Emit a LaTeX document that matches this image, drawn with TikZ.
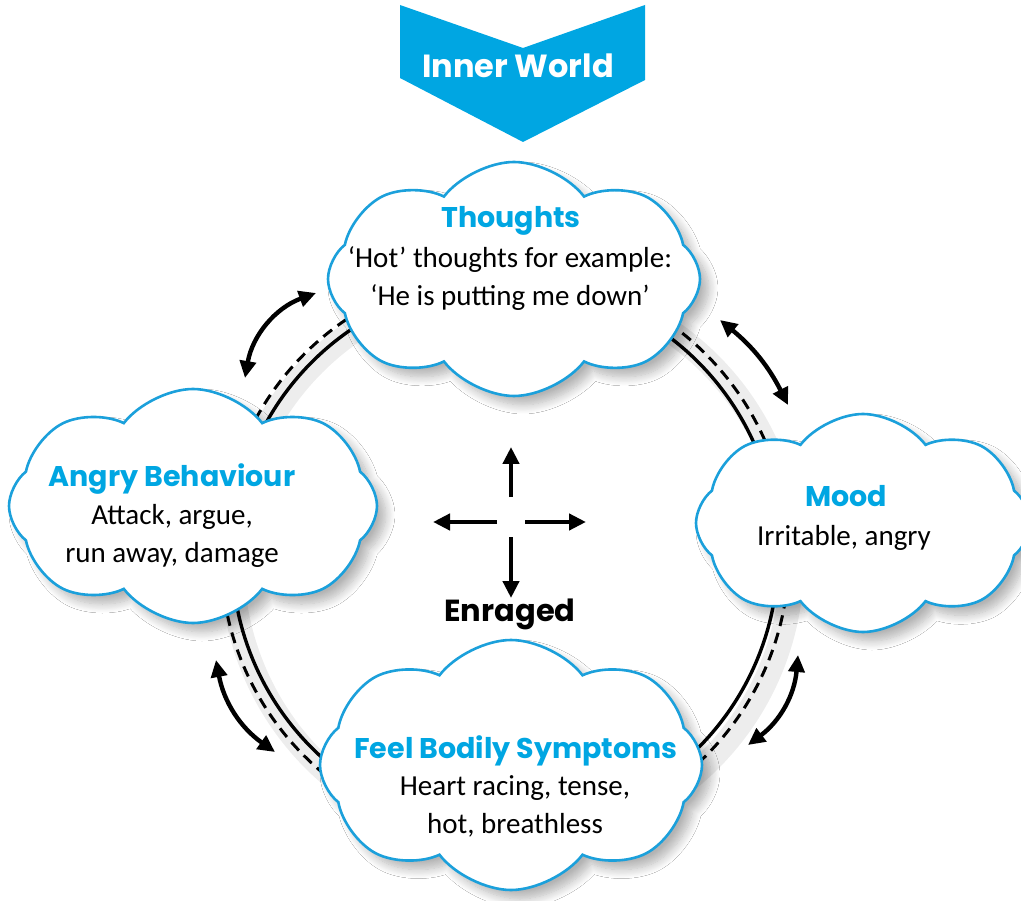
\documentclass[tikz,border=0pt]{standalone}
\usepackage{fontspec}
\setmainfont{Carlito}
\newfontfamily\headfont{Poppins}
\usetikzlibrary{shapes.symbols,arrows.meta,shadows.blur}
\definecolor{sky}{RGB}{0,166,226}
\definecolor{skyline}{RGB}{27,160,219}
\begin{document}
\begin{tikzpicture}[x=1pt,y=-1pt,
  puff/.style={cloud, cloud puffs=8, cloud puff arc=105, cloud ignores aspect,
    draw=skyline, line width=2.6pt, fill=white,
    blur shadow={shadow xshift=9pt, shadow yshift=-9pt, shadow blur steps=12, shadow blur radius=9pt, shadow opacity=30}},
  headtext/.style={font=\headfont\bfseries\fontsize{28.5}{32}\selectfont, text=sky, anchor=base},
  bodytext/.style={font=\fontsize{29}{38}\selectfont, align=center, anchor=base},
  ringline/.style={line width=3.4pt, black},
  ringdash/.style={line width=3pt, black, dash pattern=on 11pt off 7pt},
  ringshade/.style={line width=24pt, black, opacity=0.07},
  swing/.style={line width=4.4pt, {Triangle[length=17pt,width=16pt]}-{Triangle[length=17pt,width=16pt]}},
  burst/.style={line width=4.4pt, -{Triangle[length=17pt,width=16pt]}}
]
\useasboundingbox (0,0) rectangle (1021,901);
\fill[white] (0,0) rectangle (1021,901);

% banner
\fill[sky] (400,5) -- (523,48) -- (645,5) -- (645,80) -- (523,142) -- (400,78) -- cycle;
\node[font=\headfont\bfseries\fontsize{32}{36}\selectfont, text=white, anchor=base] (banner) at (518,78) {Inner World};

% ring connectors
\coordinate (ringc) at (505,555);
\foreach \a/\b [count=\i] in {-113/-153,-55/-15,5/52,122/174} {
  \path (ringc) ++(\a:280) coordinate (rsh\i);
  \draw[ringshade] ([shift={(7,7)}]rsh\i) arc[start angle=\a, end angle=\b, radius=280];
  \path (ringc) ++(\a:273) coordinate (rs\i);
  \draw[ringline] (rs\i) arc[start angle=\a, end angle=\b, radius=273];
  \path (ringc) ++(\a:284) coordinate (rd\i);
  \draw[ringdash] (rd\i) arc[start angle=\a, end angle=\b, radius=284];
}

% curved two-way arrows
\coordinate (tl1) at (245,378); \coordinate (tl2) at (316,293);
\coordinate (tr1) at (720,320); \coordinate (tr2) at (788,405);
\coordinate (br1) at (798,655); \coordinate (br2) at (748,745);
\coordinate (bl1) at (275,752); \coordinate (bl2) at (216,660);
\draw[swing] (tl1) to[bend left=30] (tl2);
\draw[swing] (tr1) to[bend left=12] (tr2);
\draw[swing] (br1) to[bend left=24] (br2);
\draw[swing] (bl1) to[bend left=22] (bl2);

% clouds
\node[puff, minimum width=372pt, minimum height=234pt] (thoughts) at (514,279) {};
\node[puff, minimum width=368pt, minimum height=234pt] (angry) at (193,506) {};
\node[puff, minimum width=334pt, minimum height=218pt] (mood) at (863,523) {};
\node[puff, minimum width=382pt, minimum height=250pt] (bodily) at (511,765) {};

% texts (multi-line nodes are placed by the baseline of their last line)
\node[headtext] (thoughtsT) at (511,228) {Thoughts};
\node[bodytext] (thoughtsB) at (510,306) {‘Hot’ thoughts for example:\\‘He is putting me down’};
\node[headtext] (angryT) at (172,486) {Angry Behaviour};
\node[bodytext] (angryB) at (172,562) {Attack, argue,\\run away, damage};
\node[headtext] (moodT) at (846,507) {Mood};
\node[bodytext] (moodB) at (844,545) {Irritable, angry};
\node[headtext] (bodilyT) at (516,758) {Feel Bodily Symptoms};
\node[bodytext] (bodilyB) at (515,833) {Heart racing, tense,\\hot, breathless};

% central cross
\coordinate (hub) at (511,522);
\coordinate (hubN) at (511,497); \coordinate (tipN) at (511,447);
\coordinate (hubS) at (511,537); \coordinate (tipS) at (511,598);
\coordinate (hubW) at (497,522); \coordinate (tipW) at (433,522);
\coordinate (hubE) at (525,522); \coordinate (tipE) at (586,522);
\draw[burst] (hubN) -- (tipN);
\draw[burst] (hubS) -- (tipS);
\draw[burst] (hubW) -- (tipW);
\draw[burst] (hubE) -- (tipE);
\node[font=\headfont\bfseries\fontsize{30.5}{34}\selectfont, anchor=base] (enraged) at (510,621) {Enraged};
\end{tikzpicture}
\end{document}
